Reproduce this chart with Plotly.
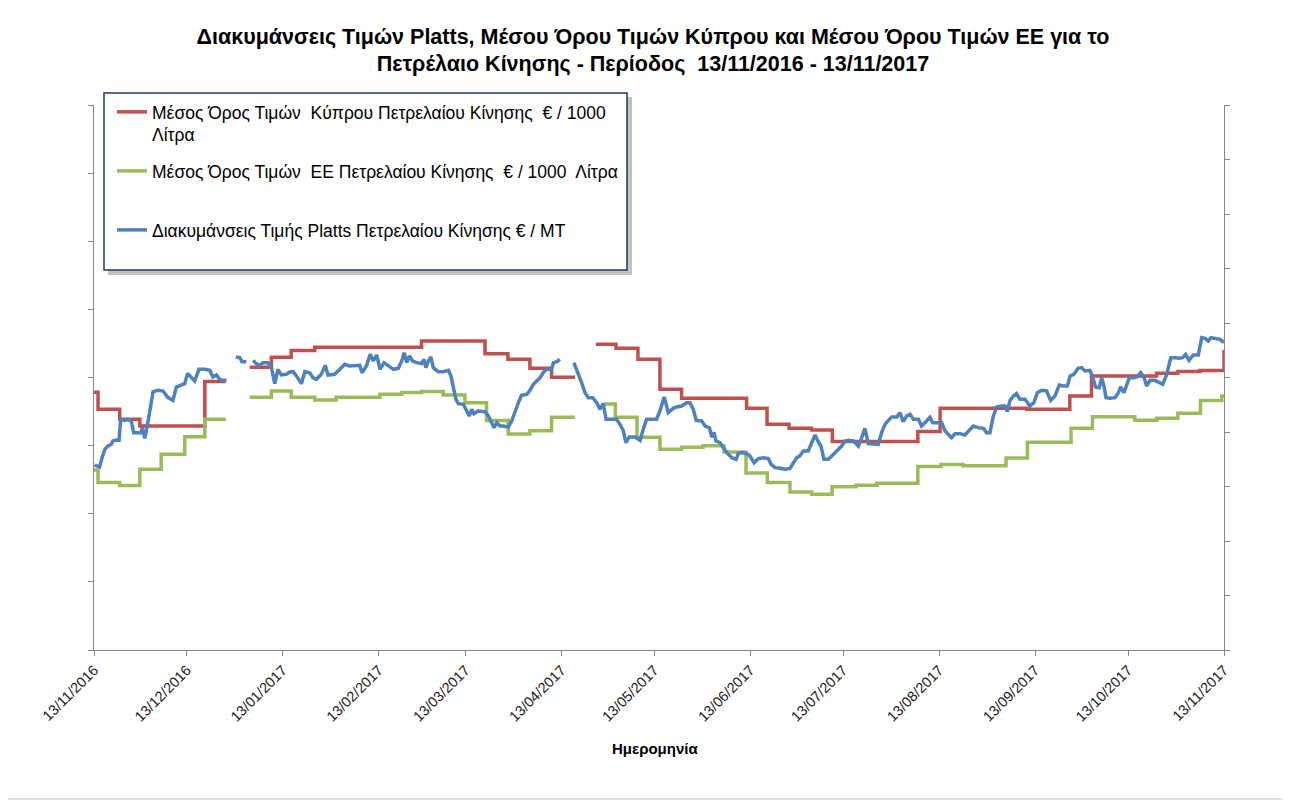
import pandas as pd
import plotly.graph_objects as go

START = pd.Timestamp("2016-11-13")

# ---- Data (day offsets from 13/11/2016) ----
cyprus_days = [0.0, 1.3, 8.3, 14.8, 35.8, 42.6, 46.0, 50.3, 57.3, 63.7, 71.3, 105.8, 126.3, 133.7,
               140.8, 147.8, 155.4, 158.0, 162.1, 168.6, 175.7, 182.8, 189.8, 210.8, 217.4, 224.5,
               231.8, 238.5, 266.1, 273.3, 301.3, 315.2, 322.2, 343.2, 350.1, 357.2, 363.7, 365.0]
cyprus_vals = [1178.4, 1153.4, 1138.8, 1128.9, 1194.0, 1194.0, None, 1215.1, 1229.8, 1239.5, 1244.5,
               1253.7, 1234.7, 1226.9, 1213.7, 1200.4, 1200.4, None, 1248.9, 1243.0, 1226.9, 1182.8,
               1169.6, 1154.9, 1131.4, 1125.5, 1123.0, 1105.9, 1120.8, 1154.9, 1153.4, 1173.0,
               1202.3, 1206.3, 1208.7, 1210.1, 1210.1, 1240.5]

eu_days = [0.0, 1.3, 8.3, 14.8, 21.7, 29.3, 35.8, 42.6, 46.0, 50.3, 57.3, 63.7, 71.3, 78.2, 92.4,
           99.4, 105.8, 112.8, 119.8, 126.8, 133.8, 140.8, 147.8, 155.4, 160.0, 164.5, 168.4, 175.4,
           182.8, 189.8, 196.7, 203.5, 210.6, 217.5, 224.8, 231.8, 238.4, 246.1, 252.9, 266.1,
           273.6, 280.7, 294.6, 301.5, 315.6, 322.5, 336.2, 343.3, 350.1, 357.4, 364.3, 365.0]
eu_vals = [1064.3, 1045.7, 1041.3, 1065.3, 1087.4, 1113.2, 1138.8, 1138.8, None, 1171.1, 1180.3,
           1171.1, 1167.1, 1171.1, 1175.5, 1177.8, 1179.3, 1174.4, 1163.1, 1136.7, 1117.2, 1122.0,
           1141.7, 1141.7, None, 1161.2, 1141.7, 1112.3, 1094.7, 1097.6, 1099.8, 1090.7, 1059.9,
           1045.7, 1032.0, 1028.8, 1039.8, 1041.8, 1044.8, 1069.2, 1072.4, 1070.6, 1081.9, 1105.0,
           1125.5, 1142.4, 1137.4, 1140.2, 1147.6, 1166.1, 1173.0, 1173.0]

platts_days = [
    0.2, 1.8, 2.6, 3.5, 4.5, 5.6, 6.1, 7.2, 8.1, 8.6, 9.9, 11.2, 12.1, 12.8, 14.2, 15.1, 15.6, 16.4,
    17.1, 18.0, 19.1, 20.7, 22.3, 23.9, 25.5, 26.6, 28.2, 29.3, 30.2, 31.4, 32.5, 33.9, 35.8, 37.4,
    38.4, 39.5, 40.6, 41.7, 42.8, 44.0, 45.8, 47.1, 47.8, 49.2, 50.3, 51.4, 52.4, 53.5, 54.6, 56.2,
    57.3, 58.4, 59.4, 60.5, 62.1, 63.2, 64.3, 65.4, 67.0, 68.1, 69.7, 70.7, 71.8, 73.4, 74.7, 75.6,
    77.7, 79.4, 81.0, 82.6, 84.2, 85.8, 86.6, 88.0,
    89.2, 90.2, 91.3, 92.4, 93.7, 95.1, 96.7, 98.3, 99.4, 100.2, 101.0, 101.9, 102.9, 104.2, 105.8,
    106.6, 107.2, 108.0, 108.8, 109.6, 111.2, 112.8, 114.5, 115.3, 116.1, 116.9, 117.7, 119.3,
    120.4, 121.2, 122.0, 122.7, 124.1, 126.3, 127.4, 128.5, 129.2, 130.1, 131.1, 132.2, 133.8,
    134.9, 136.0, 137.1, 138.1, 139.8, 140.8, 141.9, 143.0, 144.1, 145.1, 146.2, 147.8, 148.4,
    149.5, 150.5, 152.5, 155.0, 156.4, 157.5, 158.6, 159.7, 161.1, 162.4, 163.4, 164.5, 165.4,
    166.7, 168.8, 169.9, 171.0, 171.8, 172.9, 174.8, 176.4, 177.4, 178.5, 180.1, 181.7,
    182.8, 184.2, 185.5, 187.1, 188.2, 189.8, 191.4, 192.5, 193.6, 194.5, 196.3, 197.4, 198.8,
    199.5, 200.3, 200.9, 202.2, 203.1, 204.4, 206.0, 207.4, 208.1, 209.2, 210.8, 211.9, 213.2,
    214.6, 216.2, 217.8, 218.7, 220.0, 221.6, 223.2, 224.8, 225.9, 227.0, 228.0, 229.1, 230.7,
    231.8, 232.9, 233.8, 234.8, 235.8, 237.2, 238.3, 239.4, 240.4, 241.5, 242.6, 243.7, 245.3,
    246.9, 248.0, 249.0, 250.1, 251.7, 253.3, 254.4, 255.5, 256.6, 257.7, 259.3, 260.3, 261.4,
    262.5, 263.6, 264.7, 266.3, 267.3, 268.4, 270.0,
    270.9, 272.2, 273.8, 274.9, 276.0, 277.0, 278.1, 279.7, 281.3, 282.7, 284.0, 285.6, 287.3,
    288.3, 289.4, 290.5, 291.6, 293.2, 294.3, 295.0, 295.9, 297.0, 298.0, 299.1, 300.7, 302.3,
    303.6, 304.7, 306.1, 307.7, 309.0, 310.4, 311.8, 313.1, 314.4, 315.3, 316.5, 317.9, 319.0,
    320.1, 321.7, 322.8, 323.5, 324.7, 325.5, 326.2, 326.9, 328.2, 329.8, 330.9, 331.6, 332.7,
    333.6, 334.4, 335.7, 336.8, 338.1, 339.2, 340.0, 341.1, 342.7, 344.3, 345.2, 346.5, 347.8,
    349.2, 350.6, 351.6, 352.6, 353.7, 355.1, 356.7, 357.8, 358.9, 359.9, 360.8, 362.1, 363.7, 365.0]
platts_vals = [
    339.4, 335.8, 352.9, 368.2, 374.3, 377.4, 383.5, 385.3, 384.7, 423.2, 421.4, 423.2, 419.0, 398.8,
    398.8, 398.8, 407.9, 388.4, 407.9, 438.5, 474.0, 476.4, 475.2, 463.0, 458.1, 482.5, 486.2, 488.7,
    507.6, 499.7, 493.6, 515.0, 515.0, 513.1, 500.9, 504.6, 496.6, 494.8, 494.8, None, 537.6, 536.4,
    529.0, 529.0, None, 531.5, 525.4, 522.3, 527.2, 527.2, 518.0, 488.7, 515.0, 504.6, 505.8, 510.1,
    510.7, 502.7, 488.7, 510.7, 508.8, 499.7, 496.6, 505.8, 522.3, 504.6, 505.8, 515.0, 524.1, 521.1,
    521.1, 522.3, 508.8, 521.1,
    542.5, 530.3, 541.3, 515.0, 527.2, 521.1, 515.0, 516.8, 530.3, 545.5, 527.2, 539.4, 530.3, 527.2,
    525.4, 533.3, 518.0, 530.3, 537.6, 518.0, 510.7, 510.7, 513.1, 502.7, 481.3, 459.9, 452.0, 450.8,
    438.5, 429.3, 441.6, 433.6, 438.5, 437.3, 429.3, 417.1, 407.9, 417.1, 411.0, 411.0, 409.2, 420.2,
    438.5, 453.8, 467.3, 469.1, 476.4, 487.4, 493.6, 499.7, 508.8, 515.0, 515.0, 527.2, 529.0, 533.3,
    None, 527.2, 508.8, 490.5, 472.2, 463.0, 463.0, 453.8, 441.6, 452.0, 423.2, 423.2, 423.2, 414.1,
    401.8, 380.4, 390.8, 390.8, 384.7, 404.9, 423.2, 423.2, 423.2,
    438.5, 464.2, 435.5, 443.4, 445.9, 447.7, 453.8, 453.8, 441.6, 421.4, 420.2, 411.0, 407.9, 390.8,
    398.8, 383.5, 380.4, 372.5, 362.1, 352.9, 349.8, 360.2, 362.1, 360.2, 355.9, 343.7, 351.1, 352.9,
    351.1, 340.7, 334.5, 333.3, 331.5, 333.3, 343.7, 352.9, 355.9, 365.1, 365.1, 380.4, 394.5, 383.5,
    374.3, 349.8, 349.8, 355.9, 362.1, 366.4, 374.3, 383.5, 384.7, 383.5, 374.3, 389.6, 406.7, 378.6,
    378.6, 377.4, 398.8, 414.1, 421.4, 427.5, 427.5, 435.5, 418.9, 429.3, 432.4, 423.2, 423.2, 411.0,
    417.1, 427.0,
    417.2, 417.2, 417.2, 401.9, 395.7, 389.6, 397.0, 397.0, 394.5, 403.1, 411.0, 408.0, 406.8, 398.8,
    398.8, 429.4, 445.9, 447.7, 447.7, 437.3, 458.1, 466.1, 470.4, 460.0, 460.0, 447.7, 453.8, 472.2,
    476.5, 475.3, 458.1, 466.1, 486.3, 484.4, 484.4, 502.8, 505.8, 516.9, 518.1, 512.0, 513.2, 496.7,
    482.6, 481.4, 499.7, 484.4, 463.0, 461.8, 463.0, 472.2, 482.6, 472.2, 487.5, 499.7, 499.7, 501.0,
    508.9, 499.7, 484.4, 494.8, 494.8, 490.5, 487.5, 505.8, 536.4, 536.4, 535.2, 536.4, 542.5, 531.5,
    541.3, 541.3, 573.1, 571.9, 567.0, 573.1, 571.9, 570.1, 564.0]

tick_dates = ["2016-11-13", "2016-12-13", "2017-01-13", "2017-02-13", "2017-03-13", "2017-04-13",
              "2017-05-13", "2017-06-13", "2017-07-13", "2017-08-13", "2017-09-13", "2017-10-13",
              "2017-11-13"]

NAME_CY = "Μέσος Όρος Τιμών  Κύπρου Πετρελαίου Κίνησης  € / 1000<br>Λίτρα"
NAME_EU = "Μέσος Όρος Τιμών  ΕΕ Πετρελαίου Κίνησης  € / 1000  Λίτρα<br>\u00a0"
NAME_PL = "Διακυμάνσεις Τιμής Platts Πετρελαίου Κίνησης € / MT"
TITLE = ("<b>Διακυμάνσεις Τιμών Platts, Μέσου Όρου Τιμών Κύπρου και Μέσου Όρου Τιμών ΕΕ για το<br>"
         "Πετρέλαιο Κίνησης - Περίοδος \u00a013/11/2016 - 13/11/2017</b>")
X_TITLE = "<b>Ημερομηνία</b>"


def to_dates(days):
    return [START + pd.Timedelta(days=d) for d in days]


FONT = "Liberation Sans"
OFF = 8                      # page body margin
W, H = 1290 - OFF, 802 - OFF
# plot area in page pixels
L, R, T, B = 94, 1224, 105, 650


def px(x):
    return (x - L) / (R - L)


def py(y):
    return (B - y) / (B - T)


fig = go.Figure()
fig.add_trace(go.Scatter(x=to_dates(cyprus_days), y=cyprus_vals, name=NAME_CY, mode="lines",
                         line=dict(color="#C0504D", width=3.5, shape="hv"), legendgroup="a",
                         connectgaps=False, yaxis="y"))
fig.add_trace(go.Scatter(x=to_dates(eu_days), y=eu_vals, name=NAME_EU, mode="lines",
                         line=dict(color="#9BBB59", width=3.5, shape="hv"), legendgroup="b",
                         connectgaps=False, yaxis="y"))
fig.add_trace(go.Scatter(x=to_dates(platts_days), y=platts_vals, name=NAME_PL, mode="lines",
                         line=dict(color="#4F81BD", width=3.5), legendgroup="c",
                         connectgaps=False, yaxis="y2"))

axis_common = dict(showline=True, linecolor="#868686", linewidth=1, ticks="outside",
                   ticklen=5, tickcolor="#868686", showgrid=False, zeroline=False)

fig.update_layout(
    width=W, height=H, autosize=False,
    margin=dict(l=L - OFF, r=W - (R - OFF), t=T - OFF, b=H - (B - OFF), pad=0),
    paper_bgcolor="white", plot_bgcolor="white",
    font=dict(family=FONT, color="#000000"),
    title=dict(text=TITLE, xref="container", x=(653 - OFF) / W, xanchor="center",
               yref="container", y=1 - (43.5 - OFF) / H, yanchor="top",
               font=dict(family=FONT, size=21.5, color="#000000")),
    xaxis=dict(type="date", range=[tick_dates[0], tick_dates[-1]], tickvals=tick_dates,
               tickformat="%d/%m/%Y", tickangle=-45,
               tickfont=dict(family=FONT, size=14.5, color="#1a1a1a"),
               **axis_common),
    yaxis=dict(range=[800, 1600], dtick=100, showticklabels=False, **axis_common),
    yaxis2=dict(range=[0, 1000], dtick=100, showticklabels=False, overlaying="y",
                side="right", **axis_common),
    legend=dict(x=px(112), y=py(94), xanchor="left", yanchor="top",
                bgcolor="rgba(0,0,0,0)", borderwidth=0, tracegroupgap=10.5, valign="top",
                font=dict(family=FONT, size=17.5, color="#000000"), itemwidth=30),
    showlegend=True,
    annotations=[dict(text=X_TITLE, xref="paper", yref="paper", x=px(655), y=py(748),
                      xanchor="center", yanchor="middle", showarrow=False,
                      font=dict(family=FONT, size=15, color="#000000"))],
    shapes=[
        dict(type="rect", xref="paper", yref="paper", x0=px(4), x1=px(1286), y0=py(799),
             y1=py(4), line=dict(color="#BFBFBF", width=1), fillcolor="rgba(0,0,0,0)",
             layer="below"),
        dict(type="rect", xref="paper", yref="paper", x0=px(108), x1=px(632), y0=py(275),
             y1=py(97), line=dict(width=0), fillcolor="rgba(120,120,120,0.45)", layer="above"),
        dict(type="rect", xref="paper", yref="paper", x0=px(104), x1=px(627), y0=py(270),
             y1=py(93), line=dict(color="#1F3864", width=1.5), fillcolor="white",
             layer="above"),
    ],
)

fig.write_html("out.html")
